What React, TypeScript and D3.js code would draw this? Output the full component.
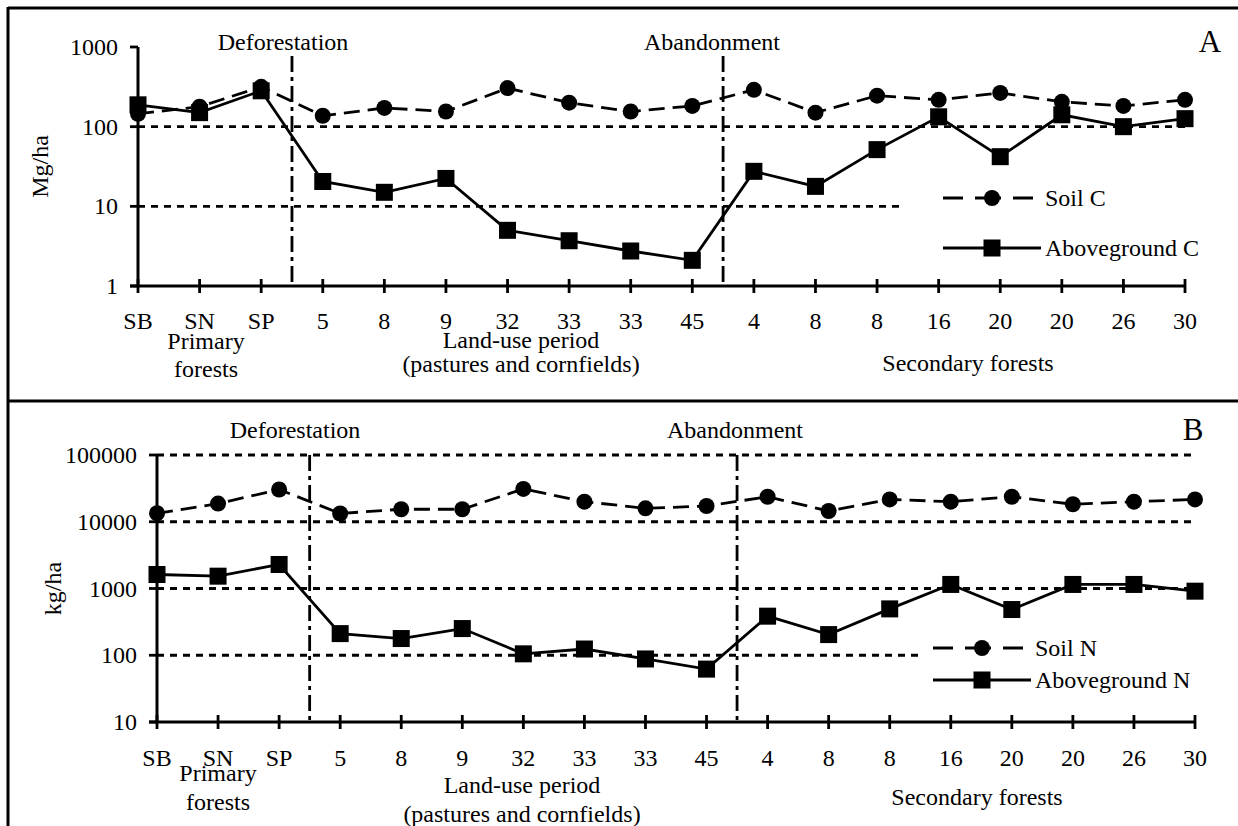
import { useRef, useEffect } from "react";
import * as d3 from "d3";

// ---- data ----
const sites = ["SB", "SN", "SP", "5", "8", "9", "32", "33", "33", "45", "4", "8", "8", "16", "20", "20", "26", "30"];

const soilC = [145, 178, 316, 137, 172, 155, 305, 200, 155, 182, 290, 150, 245, 217, 265, 205, 182, 217];
const aboveC = [188, 150, 282, 20.5, 15, 22.4, 5, 3.7, 2.75, 2.1, 27.5, 17.8, 51.5, 133, 42, 141, 100, 126];

const soilN = [13400, 18700, 30400, 13300, 15400, 15400, 31000, 20000, 15900, 17200, 23700, 14500, 21600, 20000, 23700, 18300, 20000, 21600];
const aboveN = [1620, 1530, 2290, 211, 178, 251, 105, 124, 88, 62, 385, 204, 495, 1150, 484, 1150, 1150, 912];

const ticksA = [1, 10, 100, 1000];
const ticksB = [10, 100, 1000, 10000, 100000];

const FONT = "Liberation Serif, Times New Roman, Times, serif";
const W = 1238;
const H = 826;
const SW = 2.8; // stroke width of series and reference lines

type Panel = {
  letter: string;
  unit: string;
  soil: number[];
  above: number[];
  soilName: string;
  aboveName: string;
  ticks: number[];
  grid: { v: number; end: number }[];
  x0: number;
  x1: number;
  yTop: number;
  yBot: number;
  unitX: number;
  titleY: number;
  vlineTop: number;
  defX: number;
  abX: number;
  letterX: number;
  tickLabY: number;
  primX: number;
  primY: number[];
  landX: number;
  landY: number[];
  secX: number;
  secY: number;
  legX: number;
  legY: number[];
};

const panels: Panel[] = [
  {
    letter: "A", unit: "Mg/ha", soil: soilC, above: aboveC,
    soilName: "Soil C", aboveName: "Aboveground C", ticks: ticksA,
    grid: [{ v: 100, end: 1185 }, { v: 10, end: 905 }],
    x0: 138, x1: 1185, yTop: 47, yBot: 286, unitX: 40,
    titleY: 50, vlineTop: 56, defX: 283, abX: 712, letterX: 1210,
    tickLabY: 329, primX: 206, primY: [349, 377], landX: 521, landY: [348, 372],
    secX: 968, secY: 371, legX: 943, legY: [198, 248],
  },
  {
    letter: "B", unit: "kg/ha", soil: soilN, above: aboveN,
    soilName: "Soil N", aboveName: "Aboveground N", ticks: ticksB,
    grid: [{ v: 100000, end: 1194 }, { v: 10000, end: 1195 }, { v: 1000, end: 1200 }, { v: 100, end: 920 }],
    x0: 157, x1: 1195, yTop: 455, yBot: 722, unitX: 53,
    titleY: 438, vlineTop: 455, defX: 295, abX: 735, letterX: 1193,
    tickLabY: 766, primX: 218, primY: [781, 810], landX: 522, landY: [793, 822],
    secX: 977, secY: 805, legX: 933, legY: [648, 680],
  },
];

function drawPanel(svg: d3.Selection<SVGSVGElement, unknown, null, undefined>, p: Panel) {
  const g = svg.append("g");
  const x = d3.scaleLinear().domain([0, sites.length - 1]).range([p.x0, p.x1]);
  const y = d3.scaleLog().domain([p.ticks[0], p.ticks[p.ticks.length - 1]]).range([p.yBot, p.yTop]);

  // dashed horizontal reference lines
  g.selectAll("line.grid")
    .data(p.grid)
    .join("line")
    .attr("x1", p.x0)
    .attr("x2", (d) => d.end)
    .attr("y1", (d) => y(d.v))
    .attr("y2", (d) => y(d.v))
    .attr("stroke", "#000")
    .attr("stroke-width", SW)
    .attr("stroke-dasharray", "7,6");

  // deforestation / abandonment dash-dot lines
  const vx = [x(2.5), x(9.5)];
  g.selectAll("line.v")
    .data(vx)
    .join("line")
    .attr("x1", (d) => d)
    .attr("x2", (d) => d)
    .attr("y1", p.vlineTop)
    .attr("y2", p.yBot)
    .attr("stroke", "#000")
    .attr("stroke-width", SW)
    .attr("stroke-dasharray", "16,5,4,5");

  // axes
  g.append("line").attr("x1", p.x0).attr("x2", p.x0).attr("y1", p.yTop).attr("y2", p.yBot)
    .attr("stroke", "#000").attr("stroke-width", 3);
  g.append("line").attr("x1", p.x0 - 8).attr("x2", p.x1).attr("y1", p.yBot).attr("y2", p.yBot)
    .attr("stroke", "#000").attr("stroke-width", 3);

  // y ticks and labels
  g.selectAll("line.yt")
    .data(p.ticks)
    .join("line")
    .attr("x1", p.x0 - 8)
    .attr("x2", p.x0)
    .attr("y1", (d) => y(d))
    .attr("y2", (d) => y(d))
    .attr("stroke", "#000")
    .attr("stroke-width", SW);
  g.selectAll("text.yt")
    .data(p.ticks)
    .join("text")
    .attr("x", p.x0 - 20)
    .attr("y", (d) => y(d) + 8)
    .attr("text-anchor", "end")
    .text((d) => d3.format("d")(d));

  // x ticks and labels
  g.selectAll("line.xt")
    .data(sites)
    .join("line")
    .attr("x1", (_, i) => x(i))
    .attr("x2", (_, i) => x(i))
    .attr("y1", p.yBot - 7)
    .attr("y2", p.yBot + 7)
    .attr("stroke", "#000")
    .attr("stroke-width", SW);
  g.selectAll("text.xt")
    .data(sites)
    .join("text")
    .attr("x", (_, i) => x(i))
    .attr("y", p.tickLabY)
    .attr("text-anchor", "middle")
    .text((d) => d);

  // series
  const line = d3.line<number>().x((_, i) => x(i)).y((d) => y(d));
  g.append("path").attr("d", line(p.soil)!).attr("fill", "none").attr("stroke", "#000")
    .attr("stroke-width", SW).attr("stroke-dasharray", "16,8");
  g.append("path").attr("d", line(p.above)!).attr("fill", "none").attr("stroke", "#000")
    .attr("stroke-width", SW);
  g.selectAll("circle.s")
    .data(p.soil)
    .join("circle")
    .attr("cx", (_, i) => x(i))
    .attr("cy", (d) => y(d))
    .attr("r", 8);
  g.selectAll("rect.a")
    .data(p.above)
    .join("rect")
    .attr("x", (_, i) => x(i) - 8.5)
    .attr("y", (d) => y(d) - 8.5)
    .attr("width", 17)
    .attr("height", 17);

  // unit label
  g.append("text")
    .attr("transform", `translate(${p.unitX},${(p.yTop + p.yBot) / 2}) rotate(-90)`)
    .attr("text-anchor", "middle")
    .attr("dominant-baseline", "central")
    .text(p.unit);

  // event labels and panel letter
  g.append("text").attr("x", p.defX).attr("y", p.titleY).attr("text-anchor", "middle").text("Deforestation");
  g.append("text").attr("x", p.abX).attr("y", p.titleY).attr("text-anchor", "middle").text("Abandonment");
  g.append("text").attr("x", p.letterX).attr("y", p.titleY + 2).attr("text-anchor", "middle")
    .attr("font-size", 31).text(p.letter);

  // period labels
  const grp = [
    { t: "Primary", x: p.primX, y: p.primY[0] },
    { t: "forests", x: p.primX, y: p.primY[1] },
    { t: "Land-use period", x: p.landX, y: p.landY[0] },
    { t: "(pastures and cornfields)", x: p.landX, y: p.landY[1] },
    { t: "Secondary forests", x: p.secX, y: p.secY },
  ];
  g.selectAll("text.grp")
    .data(grp)
    .join("text")
    .attr("x", (d) => d.x)
    .attr("y", (d) => d.y)
    .attr("text-anchor", "middle")
    .text((d) => d.t);

  // legend
  const lw = 98;
  const lg = g.append("g");
  lg.append("line").attr("x1", p.legX).attr("x2", p.legX + lw).attr("y1", p.legY[0]).attr("y2", p.legY[0])
    .attr("stroke", "#000").attr("stroke-width", SW).attr("stroke-dasharray", "20,12,26,12,20");
  lg.append("circle").attr("cx", p.legX + lw / 2).attr("cy", p.legY[0]).attr("r", 8);
  lg.append("text").attr("x", p.legX + lw + 4).attr("y", p.legY[0] + 8).text(p.soilName);
  lg.append("line").attr("x1", p.legX).attr("x2", p.legX + lw).attr("y1", p.legY[1]).attr("y2", p.legY[1])
    .attr("stroke", "#000").attr("stroke-width", SW);
  lg.append("rect").attr("x", p.legX + lw / 2 - 8.5).attr("y", p.legY[1] - 8.5).attr("width", 17).attr("height", 17);
  lg.append("text").attr("x", p.legX + lw + 4).attr("y", p.legY[1] + 8).text(p.aboveName);
}

export default function App() {
  const ref = useRef<SVGSVGElement>(null);

  useEffect(() => {
    const svg = d3.select(ref.current!);
    svg.selectAll("*").remove();

    svg.append("rect").attr("width", W).attr("height", H).attr("fill", "#fff");

    // panel frame: top, separator, left edge
    svg.append("line").attr("x1", 8).attr("x2", W).attr("y1", 8).attr("y2", 8)
      .attr("stroke", "#000").attr("stroke-width", 3);
    svg.append("line").attr("x1", 8).attr("x2", W).attr("y1", 401).attr("y2", 401)
      .attr("stroke", "#000").attr("stroke-width", 3);
    svg.append("line").attr("x1", 8).attr("x2", 8).attr("y1", 7).attr("y2", H)
      .attr("stroke", "#000").attr("stroke-width", 3);

    panels.forEach((p) => drawPanel(svg, p));

    svg.selectAll("text")
      .attr("font-family", FONT)
      .attr("fill", "#000")
      .each(function () {
        const t = d3.select(this);
        if (!t.attr("font-size")) t.attr("font-size", 24);
      });
  }, []);

  return (
    <svg
      ref={ref}
      width={W}
      height={H}
      style={{ position: "absolute", left: 0, top: 0, display: "block" }}
    />
  );
}
